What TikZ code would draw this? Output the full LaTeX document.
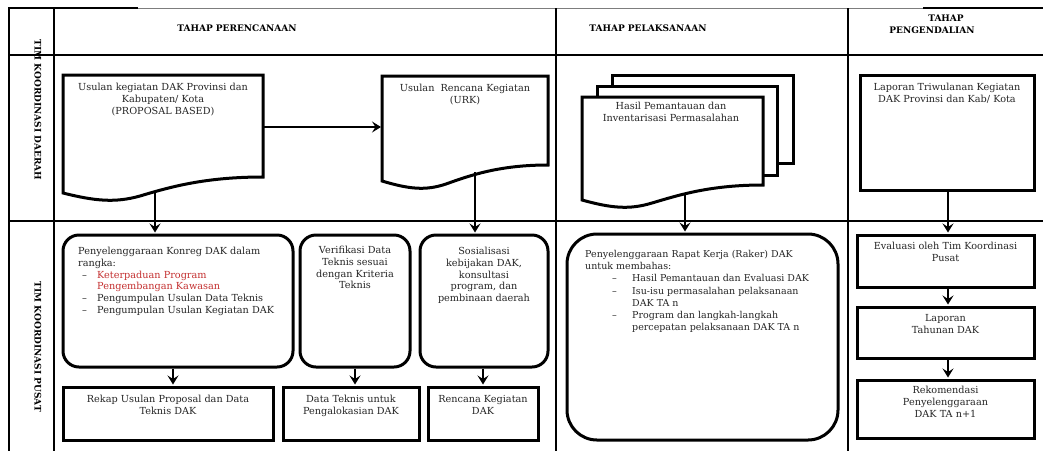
\documentclass[tikz,border=0pt]{standalone}
\usepackage{fontspec}
\setmainfont{DejaVu Serif}
\usetikzlibrary{arrows.meta}
\definecolor{keyred}{RGB}{196,48,48}
\definecolor{rulegray}{RGB}{125,125,125}
% list helpers for the text inside the rounded boxes
\newcommand{\dashitem}[1]{\makebox[19pt][l]{\hspace{4pt}--}#1}
\newcommand{\dashgap}{\hspace*{19pt}}
\newcommand{\wideitem}[1]{\makebox[47pt][l]{\hspace{27pt}--}#1}
\newcommand{\widegap}{\hspace*{47pt}}
\begin{document}
\begin{tikzpicture}[x=1pt,y=-1pt,
  grid/.style={line width=1.8pt},
  box/.style={draw, line width=3pt, rectangle, inner sep=0pt, fill=white},
  rbox/.style={box, rounded corners=16pt},
  doc/.style={draw, line width=3pt, fill=white, line join=miter},
  txt/.style={font=\fontsize{9.7}{11.8}\selectfont, align=center, inner sep=0pt, anchor=north, text=black!85},
  ltxt/.style={txt, align=left, anchor=north west},
  head/.style={font=\fontsize{9}{12}\selectfont\bfseries, align=center, inner sep=0pt},
  flow/.style={line width=2.4pt, shorten >=1pt, -{Stealth[length=9pt,width=11pt,inset=3.5pt]}},
]
\useasboundingbox (0,0) rectangle (1043,451);

% ---- swimlane grid ----
\draw[line width=1.9pt] (8,8) -- (138,8);
\draw[rulegray, line width=0.9pt] (138,8) -- (923,8);
\draw[line width=1.9pt] (923,8) -- (1043,8);
\draw[grid] (9,8) -- (9,451);
\draw[grid] (54,8) -- (54,451);
\draw[grid] (9,55) -- (1043,55);
\draw[grid] (9,221) -- (1043,221);
\draw[grid] (556,8) -- (556,451);
\draw[grid] (848,8) -- (848,451);

% ---- headers ----
\node[head] (h1) at (237,28) {TAHAP PERENCANAAN};
\node[head] (h2) at (648,28) {TAHAP PELAKSANAAN};
\node[head] (h3) at (932,24) {\hspace*{28pt}TAHAP\\PENGENDALIAN};
\node[head, rotate=-90] (lane1) at (38,110) {TIM KOORDINASI DAERAH};
\node[head, rotate=-90] (lane2) at (38,347) {TIM KOORDINASI PUSAT};

% ---- upper lane: documents ----
\draw[doc] (63,75) -- (263,75) -- (263,177)
  .. controls (205,177) and (170,187) .. (140,196)
  .. controls (115,203) and (95,201) .. (63,193) -- cycle;
\node[txt] (d1t) at (163,83) {Usulan kegiatan DAK Provinsi dan\\Kabupaten/ Kota\\(PROPOSAL BASED)};
\coordinate (d1r) at (263,127);
\coordinate (d1b) at (155,192);

\draw[doc] (382,76) -- (548,76) -- (548,165)
  .. controls (500,165) and (471,175) .. (446,184)
  .. controls (425,191) and (409,189) .. (382,181) -- cycle;
\node[txt] (d2t) at (465,84) {Usulan\ \ Rencana Kegiatan\\(URK)};
\coordinate (d2l) at (382,127);
\coordinate (d2b) at (475,172);

% stacked documents
\draw[doc] (612,75) rectangle (793,163);
\draw[doc] (597,86) rectangle (777,175);
\draw[doc] (582,97) -- (763,97) -- (763,185)
  .. controls (710,185) and (679,195) .. (652,203)
  .. controls (629,210) and (611,208) .. (582,200) -- cycle;
\node[txt] (d3t) at (671,102) {Hasil Pemantauan dan\\Inventarisasi Permasalahan};
\coordinate (d3b) at (685,194);

\node[box, minimum width=174pt, minimum height=115pt] (lt) at (947,132.5) {};
\node[txt] (ltt) at (947,83) {Laporan Triwulanan Kegiatan\\DAK Provinsi dan Kab/ Kota};

% ---- lower lane ----
\node[rbox, minimum width=230pt, minimum height=132pt] (r1) at (178,301) {};
\node[ltxt] (r1t) at (78,247) {Penyelenggaraan Konreg DAK dalam\\rangka:\\
  \dashitem{\textcolor{keyred}{Keterpaduan Program}}\\
  \dashgap\textcolor{keyred}{Pengembangan Kawasan}\\
  \dashitem{Pengumpulan Usulan Data Teknis}\\
  \dashitem{Pengumpulan Usulan Kegiatan DAK}};

\node[rbox, minimum width=110pt, minimum height=132pt] (r2) at (355,301) {};
\node[txt] (r2t) at (355,246) {Verifikasi Data\\Teknis sesuai\\dengan Kriteria\\Teknis};

\node[rbox, minimum width=128pt, minimum height=132pt] (r3) at (484,301) {};
\node[txt] (r3t) at (484,247) {Sosialisasi\\kebijakan DAK,\\konsultasi\\program, dan\\pembinaan daerah};

\node[box, rounded corners=30pt, minimum width=271pt, minimum height=206pt] (r4) at (702.5,337) {};
\node[ltxt, font=\fontsize{9.5}{12.2}\selectfont] (r4t) at (585,250) {Penyelenggaraan Rapat Kerja (Raker) DAK\\untuk membahas:\\
  \wideitem{Hasil Pemantauan dan Evaluasi DAK}\\
  \wideitem{Isu-isu permasalahan pelaksanaan}\\
  \widegap DAK TA n\\
  \wideitem{Program dan langkah-langkah}\\
  \widegap percepatan pelaksanaan DAK TA n};

\node[box, minimum width=210pt, minimum height=53pt] (b1) at (168,413.5) {};
\node[txt] (b1t) at (168,395) {Rekap Usulan Proposal dan Data\\Teknis DAK};
\node[box, minimum width=136pt, minimum height=53pt] (b2) at (351,413.5) {};
\node[txt] (b2t) at (351,395) {Data Teknis untuk\\Pengalokasian DAK};
\node[box, minimum width=110pt, minimum height=53pt] (b3) at (483,413.5) {};
\node[txt] (b3t) at (483,395) {Rencana Kegiatan\\DAK};

\node[box, minimum width=177pt, minimum height=52pt] (p1) at (945.5,261) {};
\node[txt] (p1t) at (945.5,242) {Evaluasi oleh Tim Koordinasi\\Pusat};
\node[box, minimum width=177pt, minimum height=51pt] (p2) at (945.5,332.5) {};
\node[txt] (p2t) at (945.5,314) {Laporan\\Tahunan DAK};
\node[box, minimum width=177pt, minimum height=58pt] (p3) at (945.5,409) {};
\node[txt] (p3t) at (945.5,386) {Rekomendasi\\Penyelenggaraan\\DAK TA n+1};

% ---- connectors ----
\draw[flow] (d1r) -- (d2l);
\draw[flow] (d1b) -- (d1b |- r1.north);
\draw[flow] (d2b) -- (d2b |- r3.north);
\draw[flow] (d3b) -- (d3b |- r4.north);
\draw[flow] ([xshift=1pt]lt.south) -- ([xshift=1pt]lt.south |- p1.north);
\draw[flow] ([xshift=-5pt]r1.south) -- ([xshift=-5pt]r1.south |- b1.north);
\draw[flow] (r2.south) -- (r2.south |- b2.north);
\draw[flow] ([xshift=-1pt]r3.south) -- ([xshift=-1pt]r3.south |- b3.north);
\draw[flow] ([xshift=2.5pt]p1.south) -- ([xshift=2.5pt]p1.south |- p2.north);
\draw[flow] ([xshift=2.5pt]p2.south) -- ([xshift=2.5pt]p2.south |- p3.north);
\end{tikzpicture}
\end{document}
